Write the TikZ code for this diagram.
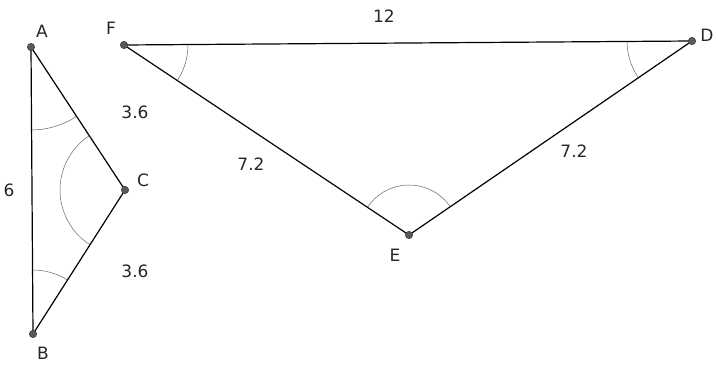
\documentclass[tikz,border=0pt]{standalone}
\usepackage{fontspec}
\setmainfont{DejaVu Sans}
\usetikzlibrary{angles}
\begin{document}
\begin{tikzpicture}[x=1pt,y=-1pt,
  side/.style={draw=black,line width=1.2pt},
  ang/.style={draw=black!60,line width=0.5pt},
  vdot/.style={circle,fill=black!65,draw=black!80,line width=0.4pt,inner sep=0pt,minimum size=7.5pt},
  lab/.style={font=\fontsize{17}{19}\selectfont,text=black!85,inner sep=0pt}]
\useasboundingbox (0,0) rectangle (718,367);
\coordinate (A) at (31,47);
\coordinate (B) at (33,334);
\coordinate (C) at (125,190);
\coordinate (F) at (124,45);
\coordinate (D) at (692,41);
\coordinate (E) at (409,235);
% angle arcs
\pic[ang,angle radius=83pt] {angle=B--A--C};
\pic[ang,angle radius=64pt] {angle=C--B--A};
\pic[ang,angle radius=65pt] {angle=A--C--B};
\pic[ang,angle radius=64pt] {angle=E--F--D};
\pic[ang,angle radius=65pt] {angle=F--D--E};
\pic[ang,angle radius=50pt] {angle=D--E--F};
% sides
\draw[side] (A) -- (B) -- (C) -- cycle;
\draw[side] (F) -- (D) -- (E) -- cycle;
% vertices
\foreach \p in {A,B,C,D,E,F} \node[vdot] (d\p) at (\p) {};
% labels
\node[lab] (lA) at (42,31) {A};
\node[lab] (lB) at (43,353) {B};
\node[lab] (lC) at (143,180) {C};
\node[lab] (lD) at (707,35) {D};
\node[lab] (lE) at (395,255) {E};
\node[lab] (lF) at (111,28) {F};
\node[lab] (l12) at (384,16) {12};
\node[lab] (l6) at (9,190) {6};
\node[lab] (l36a) at (135,112) {3.6};
\node[lab] (l36b) at (135,271) {3.6};
\node[lab] (l72a) at (251,164) {7.2};
\node[lab] (l72b) at (574,151) {7.2};
\end{tikzpicture}
\end{document}
